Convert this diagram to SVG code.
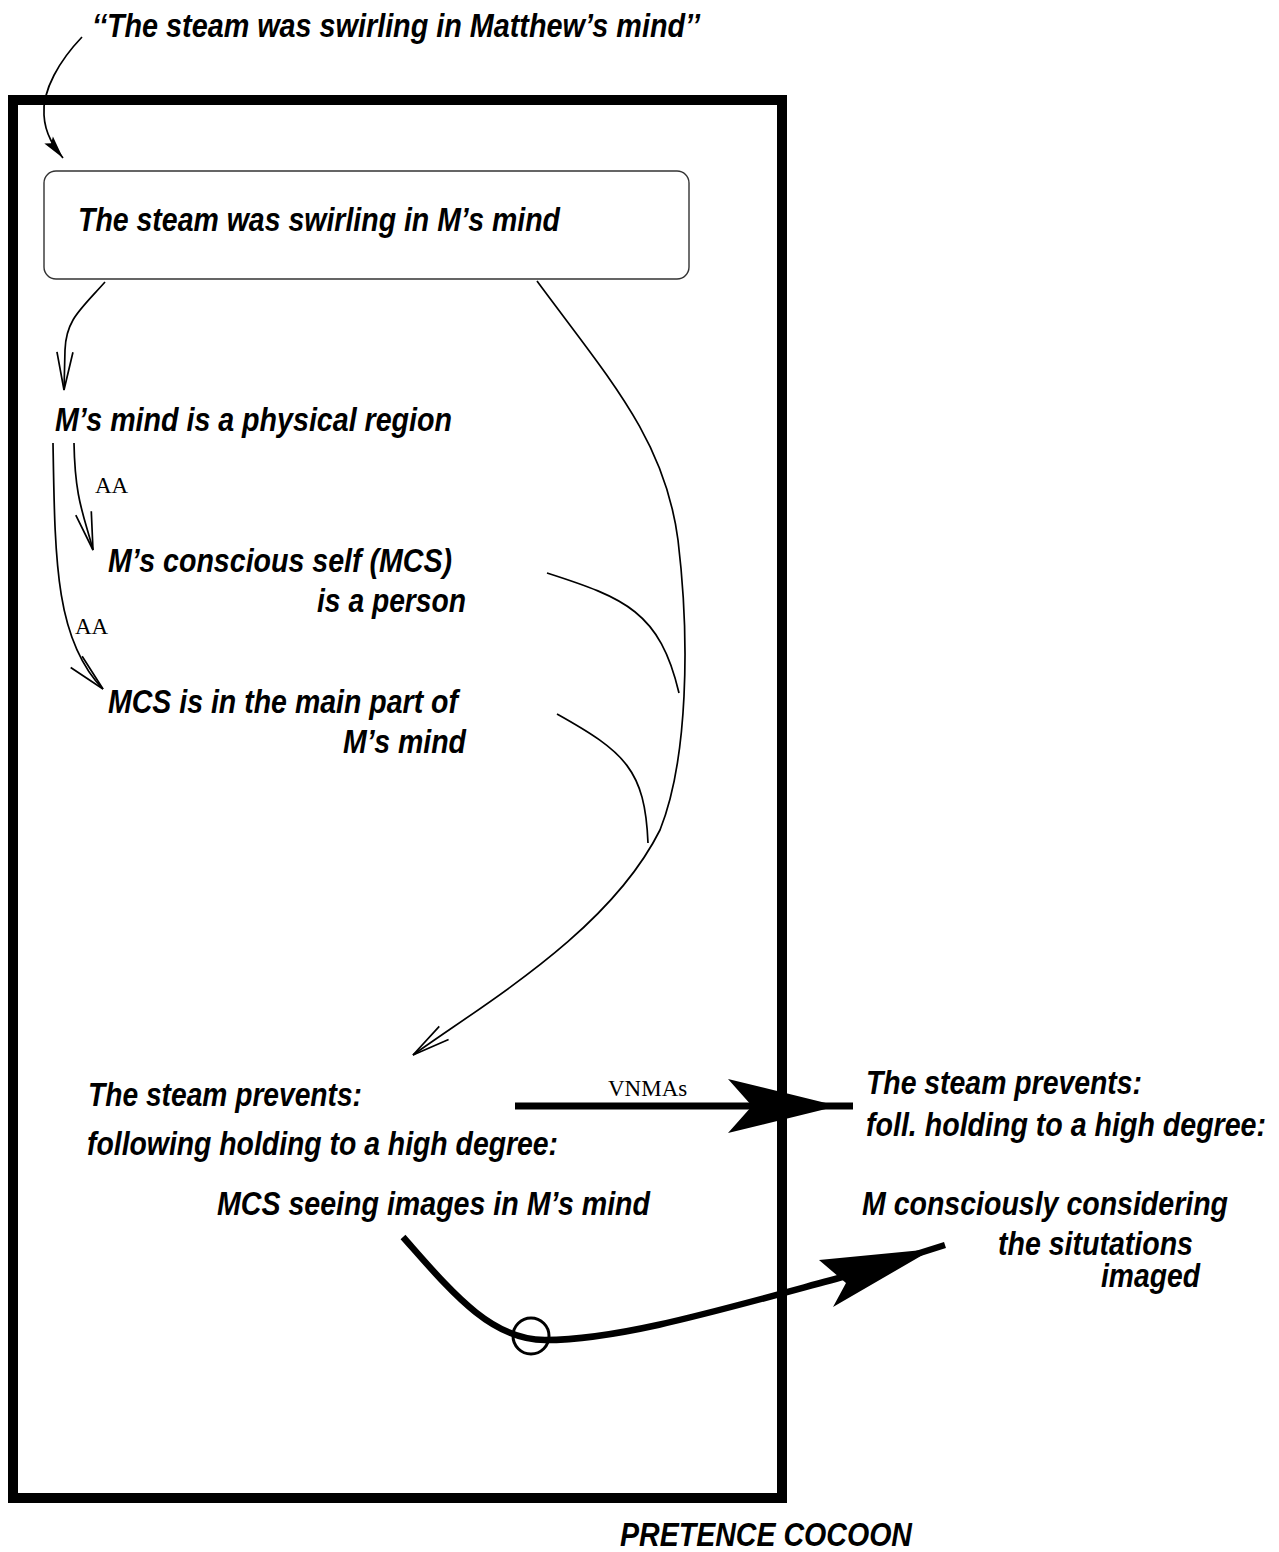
<svg xmlns="http://www.w3.org/2000/svg" width="1279" height="1552" viewBox="0 0 1279 1552">
  <style>
    .lbl { font-family: "Liberation Sans", Arial, sans-serif; font-weight: bold; font-style: italic; font-size: 33px; fill: #000; }
    .tag { font-family: "Liberation Serif", "Times New Roman", serif; font-size: 23px; fill: #000; }
    .thin { fill: none; stroke: #000; stroke-width: 1.7; }
    .thick { fill: none; stroke: #000; stroke-width: 6.5; }
  </style>
  <defs>
    <!-- open V arrowhead for thin connectors -->
    <marker id="vee" markerUnits="userSpaceOnUse" viewBox="-40 -10 42 20" markerWidth="42" markerHeight="20" refX="0" refY="0" orient="auto">
      <path d="M -38 -8 L 0 0 L -38 8" fill="none" stroke="#000" stroke-width="1.7"/>
    </marker>
    <!-- small filled arrowhead -->
    <marker id="dart" markerUnits="userSpaceOnUse" viewBox="-24 -7 26 14" markerWidth="26" markerHeight="14" refX="0" refY="0" orient="auto">
      <path d="M -23 -5.5 L 0 0 L -23 5.5 L -19 0 z" fill="#000"/>
    </marker>
  </defs>

  <!-- pretence cocoon frame -->
  <g id="cocoon">
    <rect x="13" y="100" width="769" height="1398" fill="none" stroke="#000" stroke-width="10"/>
    <text class="lbl" x="620" y="1546" font-size="29" textLength="292" lengthAdjust="spacingAndGlyphs">PRETENCE COCOON</text>
  </g>

  <g id="source-sentence">
    <text class="lbl" x="92" y="37" textLength="608" lengthAdjust="spacingAndGlyphs">‘‘The steam was swirling in Matthew’s mind’’</text>
  </g>

  <g id="literal-box">
    <rect x="44" y="171" width="645" height="108" rx="12" ry="12" fill="#fff" stroke="#333" stroke-width="1.4"/>
    <text class="lbl" x="78" y="231" textLength="482" lengthAdjust="spacingAndGlyphs">The steam was swirling in M’s mind</text>
  </g>

  <g id="physical-region">
    <text class="lbl" x="55" y="431" textLength="397" lengthAdjust="spacingAndGlyphs">M’s mind is a physical region</text>
  </g>

  <g id="conscious-self">
    <text class="lbl" x="108" y="572" textLength="344" lengthAdjust="spacingAndGlyphs">M’s conscious self (MCS)</text>
    <text class="lbl" x="317" y="612" textLength="149" lengthAdjust="spacingAndGlyphs">is a person</text>
  </g>

  <g id="main-part">
    <text class="lbl" x="108" y="713" textLength="350" lengthAdjust="spacingAndGlyphs">MCS is in the main part of</text>
    <text class="lbl" x="343" y="753" textLength="123" lengthAdjust="spacingAndGlyphs">M’s mind</text>
  </g>

  <g id="steam-prevents-inner">
    <text class="lbl" x="88" y="1106" textLength="274" lengthAdjust="spacingAndGlyphs">The steam prevents:</text>
    <text class="lbl" x="87" y="1155" textLength="471" lengthAdjust="spacingAndGlyphs">following holding to a high degree:</text>
    <text class="lbl" x="217" y="1215" textLength="433" lengthAdjust="spacingAndGlyphs">MCS seeing images in M’s mind</text>
  </g>

  <g id="steam-prevents-outer">
    <text class="lbl" x="866" y="1094" textLength="276" lengthAdjust="spacingAndGlyphs">The steam prevents:</text>
    <text class="lbl" x="866" y="1136" textLength="400" lengthAdjust="spacingAndGlyphs">foll. holding to a high degree:</text>
    <text class="lbl" x="862" y="1215" textLength="366" lengthAdjust="spacingAndGlyphs">M consciously considering</text>
    <text class="lbl" x="998" y="1255" textLength="195" lengthAdjust="spacingAndGlyphs">the situtations</text>
    <text class="lbl" x="1101" y="1287" textLength="99" lengthAdjust="spacingAndGlyphs">imaged</text>
  </g>

  <g id="connectors">
    <!-- sentence into the cocoon -->
    <path class="thin" d="M 82 37 C 60 60, 42 90, 44 115 C 45 135, 55 148, 63 158" marker-end="url(#dart)"/>
    <!-- box to physical region -->
    <path class="thin" d="M 105 282 C 80 310, 66 320, 65 350 L 64 390" marker-end="url(#vee)"/>
    <!-- AA links -->
    <path class="thin" d="M 74 443 C 75 500, 84 515, 93 550" marker-end="url(#vee)"/>
    <path class="thin" d="M 53 443 C 55 560, 55 640, 103 689" marker-end="url(#vee)"/>
    <!-- long inference chain down to the prevention statement -->
    <path class="thin" d="M 537 281 C 610 380, 665 440, 678 540 C 690 640, 688 760, 660 830 C 610 930, 490 1000, 413 1055" marker-end="url(#vee)"/>
    <!-- contributing strands merging into the chain -->
    <path class="thin" d="M 547 573 C 625 598, 660 612, 679 693"/>
    <path class="thin" d="M 557 714 C 625 752, 645 770, 648 843"/>
    <!-- VNMA mapping -->
    <line x1="515" y1="1106" x2="853" y2="1106" stroke="#000" stroke-width="7"/>
    <polygon points="728,1079 838,1106 728,1133 752,1106" fill="#000"/>
    <!-- mapping of the embedded situation -->
    <path class="thick" d="M 403 1237 C 450 1290, 490 1340, 545 1340 C 620 1340, 720 1310, 850 1275 L 945 1245"/>
    <polygon points="819,1260 933,1249 833,1307 846,1283" fill="#000"/>
    <circle cx="531" cy="1336" r="18" fill="none" stroke="#000" stroke-width="3"/>
    <text class="tag" x="95" y="493">AA</text>
    <text class="tag" x="75" y="634">AA</text>
    <text class="tag" x="608" y="1096">VNMAs</text>
  </g>
</svg>
